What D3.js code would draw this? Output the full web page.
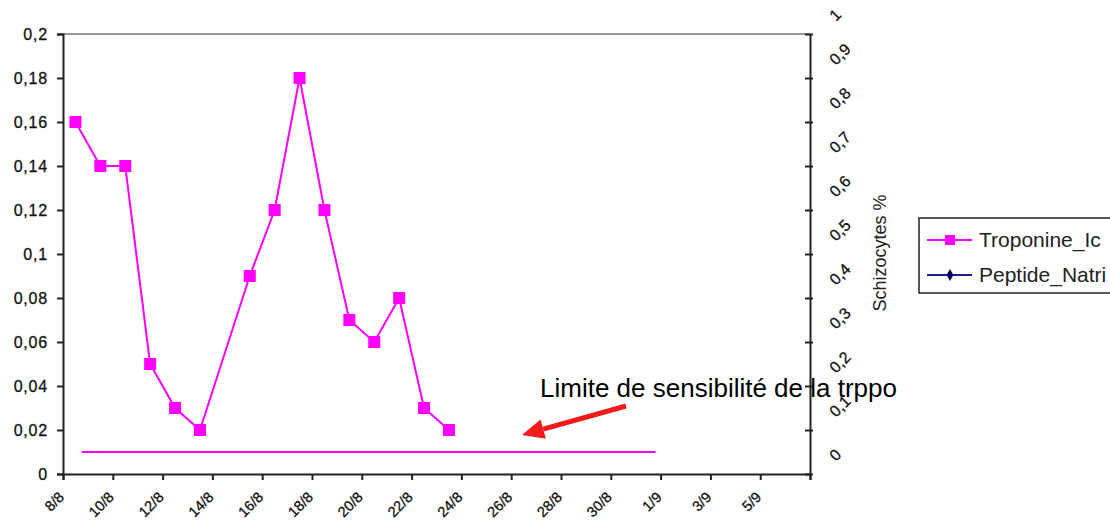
<!DOCTYPE html>
<html><head><meta charset="utf-8">
<script src="https://cdn.jsdelivr.net/npm/d3@7"></script>
<style>
html,body{margin:0;padding:0;background:#fff;}
svg{display:block;font-family:"Liberation Sans",Arial,sans-serif;}
</style></head>
<body><svg id="c" width="1110" height="525"></svg>
<script>
// ---- data ----
const year = "2005";
const dates = ["8/8","9/8","10/8","11/8","12/8","13/8","15/8","16/8","17/8","18/8","19/8","20/8","21/8","22/8","23/8"];
const troponine = [0.16,0.14,0.14,0.05,0.03,0.02,0.09,0.12,0.18,0.12,0.07,0.06,0.08,0.03,0.02];
const peptideNatri = [];
const tickLabels = ["8/8","10/8","12/8","14/8","16/8","18/8","20/8","22/8","24/8","26/8","28/8","30/8","1/9","3/9","5/9"];
const axisEnd = "7/9";
const limitValue = 0.01;
const limitSpan = ["2005-08-08T18:00","2005-08-31T19:00"];
const leftTicks = [0,0.02,0.04,0.06,0.08,0.1,0.12,0.14,0.16,0.18,0.2];
const rightTicks = [0,0.1,0.2,0.3,0.4,0.5,0.6,0.7,0.8,0.9,1];
const seriesNames = ["Troponine_Ic","Peptide_Natri"];
const annotation = "Limite de sensibilité de la trppo";
const rightTitle = "Schizocytes %";

// ---- setup ----
const parse = d3.utcParse("%d/%m/%Y");
const pd = s => parse(s + "/" + year);
const loc = d3.formatLocale({decimal:",", thousands:" ", grouping:[3], currency:["","€"]});
const fmt = loc.format("~g");
const svg = d3.select("#c");
const X0 = 63, X1 = 810, YT = 34, YB = 474;

const x = d3.scaleUtc().domain([pd("8/8"), pd(axisEnd)]).range([X0, X1]);
const y = d3.scaleLinear().domain([0, 0.2]).range([YB, YT]);
const y2 = d3.scaleLinear().domain([0, 1]).range([YB, YT]);
const mid = d => d3.utcHour.offset(pd(d), 12);

// top border
svg.append("line").attr("x1", X0).attr("x2", X1).attr("y1", y(0.2)).attr("y2", y(0.2))
  .attr("stroke", "#999").attr("stroke-width", 2);

// left axis
const gL = svg.append("g").attr("transform", `translate(${X0},0)`)
  .call(d3.axisLeft(y).tickValues(leftTicks).tickFormat(fmt).tickSize(6).tickPadding(9));
gL.select(".domain").attr("stroke", "#222").attr("stroke-width", 2);
gL.selectAll(".tick line").attr("stroke", "#222").attr("stroke-width", 2);
gL.selectAll("text").attr("font-size", 16).attr("fill", "#111").attr("letter-spacing", 0.8)
  .attr("font-family", "'Liberation Sans',Arial,sans-serif").attr("stroke", "#111").attr("stroke-width", 0.3);

// bottom axis
const tickDates = tickLabels.concat([axisEnd]).map(pd);
const gB = svg.append("g").attr("transform", `translate(0,${YB})`)
  .call(d3.axisBottom(x).tickValues(tickDates).tickFormat("").tickSize(6));
gB.select(".domain").attr("stroke", "#222").attr("stroke-width", 2);
gB.selectAll(".tick line").attr("stroke", "#222").attr("stroke-width", 2);
svg.append("g").selectAll("text").data(tickLabels).join("text")
  .attr("transform", d => `translate(${x(pd(d)) + 2},${YB + 24}) rotate(-45)`)
  .attr("text-anchor", "end").attr("font-size", 14.5).attr("fill", "#111")
  .attr("stroke", "#111").attr("stroke-width", 0.3)
  .text(d => d);

// right axis
const gR = svg.append("g").attr("transform", `translate(${X1},0)`)
  .call(d3.axisRight(y2).tickValues(rightTicks).tickFormat("").tickSize(0));
gR.select(".domain").attr("stroke", "#222").attr("stroke-width", 2);
gR.selectAll(".tick line").attr("x1", -5).attr("x2", 3).attr("stroke", "#222").attr("stroke-width", 2);
svg.append("g").selectAll("text").data(rightTicks).join("text")
  .attr("transform", d => `translate(${X1 + 26},${y2(d) - 12}) rotate(-45)`)
  .attr("text-anchor", "start").attr("font-size", 16).attr("fill", "#111")
  .attr("stroke", "#111").attr("stroke-width", 0.3)
  .text(d => fmt(d));
svg.append("text").attr("transform", `translate(886,253) rotate(-90)`)
  .attr("text-anchor", "middle").attr("font-size", 18).attr("fill", "#222").text(rightTitle);

// limit line
svg.append("line")
  .attr("x1", x(new Date(limitSpan[0] + "Z"))).attr("x2", x(new Date(limitSpan[1] + "Z")))
  .attr("y1", y(limitValue)).attr("y2", y(limitValue))
  .attr("stroke", "#ff00ff").attr("stroke-width", 2);

// series line
const pts = dates.map((d, i) => ({d: mid(d), v: troponine[i]}));
svg.append("path").datum(pts)
  .attr("d", d3.line().x(p => x(p.d)).y(p => y(p.v)))
  .attr("fill", "none").attr("stroke", "#ff00ff").attr("stroke-width", 2);
svg.append("g").selectAll("rect").data(pts).join("rect")
  .attr("x", p => x(p.d) - 6).attr("y", p => y(p.v) - 6)
  .attr("width", 12).attr("height", 12).attr("fill", "#ff00ff");

// annotation
svg.append("text").attr("x", 540).attr("y", 397).attr("font-size", 26).attr("fill", "#000")
  .text(annotation);
const ax1 = 626, ay1 = 406, ax2 = 522, ay2 = 435;
const ang = Math.atan2(ay2 - ay1, ax2 - ax1);
const hl = 22, hw = 10;
const bx = ax2 - hl * Math.cos(ang), by = ay2 - hl * Math.sin(ang);
svg.append("line").attr("x1", ax1).attr("y1", ay1).attr("x2", bx).attr("y2", by)
  .attr("stroke", "#f21b1b").attr("stroke-width", 5);
svg.append("path")
  .attr("d", `M${ax2},${ay2} L${bx + hw * Math.sin(ang)},${by - hw * Math.cos(ang)} L${bx - hw * Math.sin(ang)},${by + hw * Math.cos(ang)} Z`)
  .attr("fill", "#f21b1b");

// legend
const lg = svg.append("g");
lg.append("rect").attr("x", 919).attr("y", 218).attr("width", 240).attr("height", 75)
  .attr("fill", "#fff").attr("stroke", "#222").attr("stroke-width", 1.5);
const legendRows = [
  {name: seriesNames[0], color: "#ff00ff", marker: "square", yy: 240},
  {name: seriesNames[1], color: "#1f1f8f", marker: "diamond", yy: 275}
];
legendRows.forEach(r => {
  lg.append("line").attr("x1", 927).attr("x2", 972).attr("y1", r.yy).attr("y2", r.yy)
    .attr("stroke", r.color).attr("stroke-width", 2);
  if (r.marker === "square") {
    lg.append("rect").attr("x", 945).attr("y", r.yy - 5).attr("width", 10).attr("height", 10).attr("fill", r.color);
  } else {
    lg.append("path").attr("d", d3.symbol(d3.symbolDiamond, 40)()).attr("transform", `translate(950,${r.yy})`)
      .attr("fill", "#000060");
  }
  lg.append("text").attr("x", 979).attr("y", r.yy + 7).attr("font-size", 21).attr("fill", "#222").text(r.name);
});
</script></body></html>
